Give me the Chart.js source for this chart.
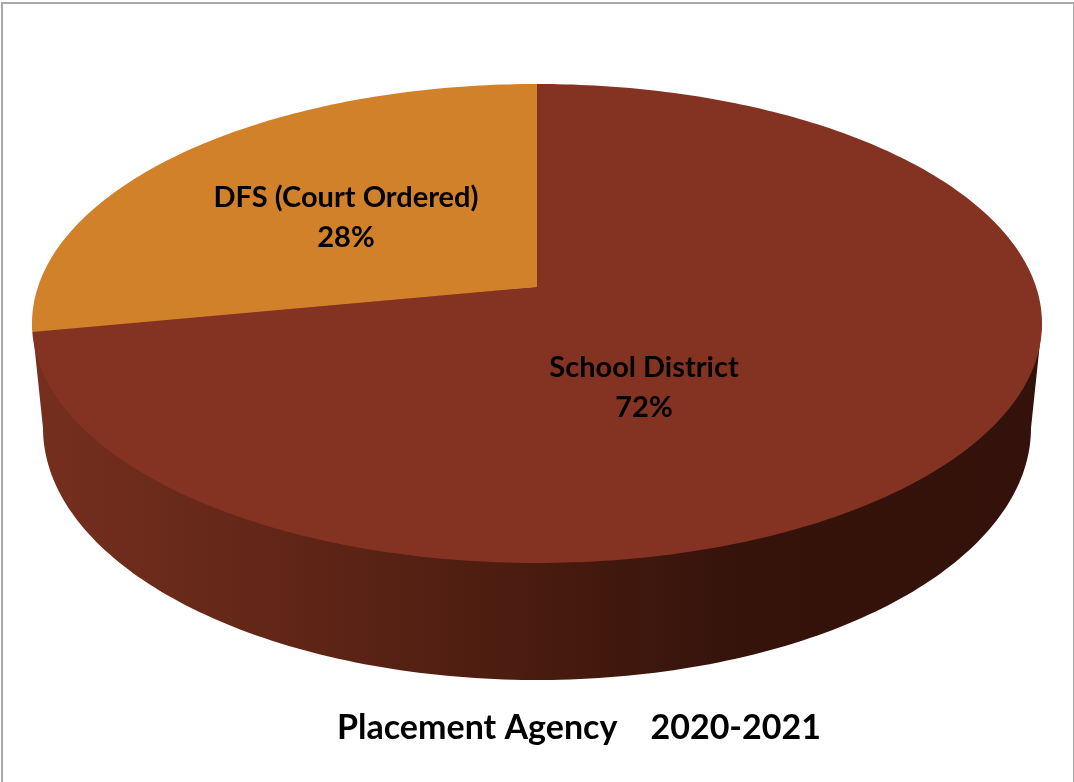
<!DOCTYPE html>
<html>
<head>
<meta charset="utf-8">
<title>Placement Agency 2020-2021</title>
<script src="https://cdn.jsdelivr.net/npm/chart.js@4/dist/chart.umd.js"></script>
<style>
  html, body { margin: 0; padding: 0; background: #fff; overflow: hidden; }
  #frame { position: absolute; left: 1px; top: 2px; width: 1070px; height: 790px;
           border: 2px solid #a8a8a8; box-sizing: content-box; pointer-events: none; }
  canvas { position: absolute; left: 0; top: 0; }
</style>
</head>
<body>
<canvas id="pie" width="1074" height="782"></canvas>
<div id="frame"></div>
<script>
// Chart values
const categories = ['School District', 'DFS (Court Ordered)'];
const shares = [72, 28];
const sliceColors = ['#843323', '#D2812B'];
const chartTitle = 'Placement Agency    2020-2021';

// Tilted-disc geometry: the rim of each face and the point the slices meet at.
const TOP_FACE = { cx: 537, top: 84, bottom: 563, rx: 505, hub: 287 };
const BASE_FACE = { cx: 537, top: 176, bottom: 680, rx: 494, hub: 390 };
const LABEL_CENTRES = [[644, 387.5], [346, 217.5]];
const LABEL_FONT = 'bold 29px Lato';
const LABEL_LINE = 40;

// Perspective map from a point on the unit disc to the canvas.
function project(face, u, v) {
  const up = face.hub - face.top, down = face.bottom - face.hub;
  const c = (up - down) / (up + down);
  const b = up * (1 - c);
  const a = face.rx * Math.sqrt(1 - c * c);
  const w = 1 + c * v;
  return [face.cx + a * u / w, face.hub + b * v / w];
}

function traceArc(ctx, face, from, to) {
  const steps = Math.max(2, Math.ceil(Math.abs(to - from) * 60));
  for (let i = 0; i <= steps; i++) {
    const angle = from + (to - from) * i / steps;
    const p = project(face, Math.cos(angle), Math.sin(angle));
    ctx.lineTo(p[0], p[1]);
  }
}

// Angle on the rim where a face reaches its left or right extreme.
function rimExtreme(face, side) {
  const up = face.hub - face.top, down = face.bottom - face.hub;
  const c = (up - down) / (up + down);
  const s = Math.asin(-c);
  return side < 0 ? Math.PI - s : s;
}

const disc3d = {
  id: 'disc3d',
  beforeDatasetsDraw(chart) {
    const ctx = chart.ctx;
    const wall = ctx.createLinearGradient(TOP_FACE.cx - TOP_FACE.rx, 0, TOP_FACE.cx + TOP_FACE.rx, 0);
    wall.addColorStop(0, '#762f1e');
    wall.addColorStop(0.3, '#5c2416');
    wall.addColorStop(0.5, '#491b0f');
    wall.addColorStop(0.7, '#35130b');
    wall.addColorStop(1, '#33120b');

    // The wall under the disc: tucked beneath the top face, down to the base rim.
    const hub = project(TOP_FACE, 0, 0);
    const lTop = rimExtreme(TOP_FACE, -1), rTop = rimExtreme(TOP_FACE, 1);
    const pl = project(TOP_FACE, Math.cos(lTop), Math.sin(lTop));
    const pr = project(TOP_FACE, Math.cos(rTop), Math.sin(rTop));
    ctx.save();
    ctx.beginPath();
    ctx.moveTo(pl[0], pl[1]);
    ctx.lineTo(hub[0], hub[1]);
    ctx.lineTo(pr[0], pr[1]);
    traceArc(ctx, BASE_FACE, rimExtreme(BASE_FACE, 1), rimExtreme(BASE_FACE, -1));
    ctx.closePath();
    ctx.fillStyle = wall;
    ctx.fill();

    // Slice faces, using the angles the pie controller worked out.
    chart.getDatasetMeta(0).data.forEach((arc) => {
      ctx.beginPath();
      ctx.moveTo(hub[0], hub[1]);
      traceArc(ctx, TOP_FACE, arc.startAngle, arc.endAngle);
      ctx.closePath();
      ctx.fillStyle = arc.options.backgroundColor;
      ctx.fill();
    });
    ctx.restore();
    return false;
  },
  afterDraw(chart) {
    const ctx = chart.ctx;
    const values = chart.data.datasets[0].data;
    ctx.save();
    ctx.font = LABEL_FONT;
    ctx.fillStyle = '#000';
    ctx.textAlign = 'center';
    ctx.textBaseline = 'middle';
    chart.data.labels.forEach((label, i) => {
      const [x, y] = LABEL_CENTRES[i];
      ctx.fillText(label, x, y - LABEL_LINE / 2);
      ctx.fillText(values[i] + '%', x, y + LABEL_LINE / 2);
    });
    ctx.restore();
  }
};

new Chart(document.getElementById('pie'), {
  type: 'pie',
  data: {
    labels: categories,
    datasets: [{ data: shares, backgroundColor: sliceColors, borderWidth: 0 }]
  },
  options: {
    responsive: false,
    animation: false,
    layout: { padding: { left: 84, bottom: 34 } },
    plugins: {
      legend: { display: false },
      tooltip: { enabled: false },
      title: {
        display: true,
        text: chartTitle,
        position: 'bottom',
        color: '#000',
        font: { family: 'Lato', weight: 'bold', size: 34 },
        padding: 0
      }
    }
  },
  plugins: [disc3d]
});
</script>
</body>
</html>
